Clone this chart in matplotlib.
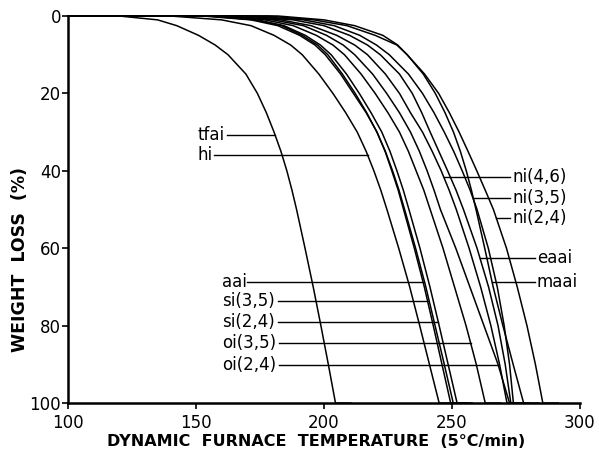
import numpy as np
import matplotlib.pyplot as plt

# weight loss levels (%) at which each curve's temperature was read
loss = [0, 1, 2.5, 5, 7.5, 10, 15, 20, 25, 30, 35, 40, 45, 50, 60, 70, 80, 90, 100]

# temperature (C) of each sample at those weight loss levels
tfai = [120, 135, 142.5, 151, 157.5, 162.5, 169.5, 174, 177.5, 180.5, 183.2, 185.5, 187.5, 189.3,
        192.6, 195.8, 198.8, 201.7, 204.5]
hi = [140, 160, 171.5, 180.5, 187, 191.5, 198, 203.5, 208.5, 213, 216.5, 219.5, 222.2, 224.6,
      229.2, 233.5, 237.4, 241.2, 245]
aai = [152.5, 171.5, 182, 190.5, 196.5, 200.5, 206.5, 211.5, 216.5, 220.7, 224, 226.8, 229.3, 231.5,
       235.8, 239.8, 243.4, 247, 250.5]
si35 = [155, 173, 183.5, 191.5, 197.5, 201.5, 207.2, 212.2, 216.7, 220.7, 223.9, 226.5, 229, 231.1,
        235.3, 239.2, 242.7, 246.1, 249.5]
si24 = [155.4, 174, 184.4, 192.7, 198.6, 202.8, 208.8, 213.8, 218.4, 222.6, 225.8, 228.5, 231, 233.2,
        237.5, 241.4, 245, 248.5, 252]
oi35 = [158, 177, 188, 197, 203.5, 208, 214.5, 220, 225, 229.5, 233, 236, 239, 241.5,
        246.5, 251, 255.5, 259.5, 263]
oi24 = [160, 180, 192, 201, 207.5, 212, 219, 224.5, 229.5, 233.8, 237.3, 240.3, 243, 245.5,
        251.5, 257, 262.5, 268, 272.5]
ni46 = [163, 183, 195, 205, 212, 217, 224, 229.5, 233.8, 238.5, 242.3, 245.8, 248.9, 251.7,
        256.7, 261.2, 265.2, 268.6, 271.5]
ni35 = [172, 192, 204, 214, 220.5, 225.5, 233, 238.5, 243, 247, 250.7, 254, 257.1, 259.8,
        264.2, 267.7, 270.4, 272.5, 274]
ni24 = [182, 200, 212, 223, 228.8, 232.5, 239.3, 244.8, 249, 252.8, 256.3, 259.7, 263, 266.2,
        271.3, 275.5, 279.3, 282.6, 285.5]
eaai = [168, 188, 200, 210, 217, 222, 229.5, 234.5, 238.2, 241.5, 244.9, 248.3, 251.6, 254.5,
        259.8, 264.3, 268, 270.8, 273]
maai = [178, 196, 209, 220, 228.5, 232.5, 238.8, 243.5, 247.3, 250.6, 253.3, 255.6, 257.6, 259.4,
        262.8, 266.1, 269.9, 273.9, 278]

curves = {'tfai': tfai, 'hi': hi, 'aai': aai, 'si(3,5)': si35, 'si(2,4)': si24,
          'oi(3,5)': oi35, 'oi(2,4)': oi24, 'ni(4,6)': ni46, 'ni(3,5)': ni35,
          'ni(2,4)': ni24, 'eaai': eaai, 'maai': maai}

# weight loss level where each label's leader meets its curve
left_names = ['tfai', 'hi', 'aai', 'si(3,5)', 'si(2,4)', 'oi(3,5)', 'oi(2,4)']
left_levels = [30.7, 36, 68.6, 73.6, 79, 84.4, 90.2]
right_names = ['ni(4,6)', 'ni(3,5)', 'ni(2,4)', 'eaai', 'maai']
right_levels = [41.5, 46.9, 52.2, 62.5, 68.6]

# label layout (temperature units)
left_text_x = [150.4, 150.4, 160.2, 160.2, 160.2, 160.2, 160.2]
left_lead_x = [162.3, 157.2, 170.0, 182.0, 182.0, 182.4, 182.4]
right_lead_x = [272.7, 272.7, 272.7, 282.4, 282.4]
right_text_x = [273.6, 273.6, 273.6, 283.2, 283.2]

fig = plt.figure(figsize=(5.99, 4.57), dpi=100)
ax = fig.add_axes([0.1135, 0.118, 0.8547, 0.847])

for name, temps in curves.items():
    xs = [100] + temps + [temps[-1] + 6]
    ys = [0] + loss + [100]
    ax.plot(xs, ys, color='black', lw=1.1, clip_on=False)

for name, lev, tx, lx in zip(left_names, left_levels, left_text_x, left_lead_x):
    cx = np.interp(lev, loss, curves[name])
    ax.plot([lx, cx], [lev, lev], color='black', lw=1.0)
    ax.text(tx, lev, name, ha='left', va='center', fontsize=12)

for name, lev, lx, tx in zip(right_names, right_levels, right_lead_x, right_text_x):
    cx = np.interp(lev, loss, curves[name])
    ax.plot([cx, lx], [lev, lev], color='black', lw=1.0)
    ax.text(tx, lev, name, ha='left', va='center', fontsize=12)

ax.set_xlim(100, 300)
ax.set_ylim(100, 0)
ax.set_xticks([100, 150, 200, 250, 300])
ax.set_yticks([0, 20, 40, 60, 80, 100])
ax.tick_params(direction='out', length=4, width=1.2, labelsize=12, colors='black')
ax.tick_params(axis='x', pad=4)
ax.tick_params(axis='y', pad=1)
for s in ['top', 'right']:
    ax.spines[s].set_visible(False)
for s in ['left', 'bottom']:
    ax.spines[s].set_linewidth(1.8)

ax.set_xlabel('DYNAMIC  FURNACE  TEMPERATURE  (5°C/min)', fontsize=11.5, fontweight='bold')
ax.xaxis.set_label_coords(0.485, -0.098)
ax.xaxis.label.set_va('center')
ax.set_ylabel('WEIGHT  LOSS  (%)', fontsize=12.5, fontweight='bold')
ax.yaxis.set_label_coords(-0.094, 0.37)
ax.yaxis.label.set_va('center')

fig.savefig('out.png', dpi=100)
